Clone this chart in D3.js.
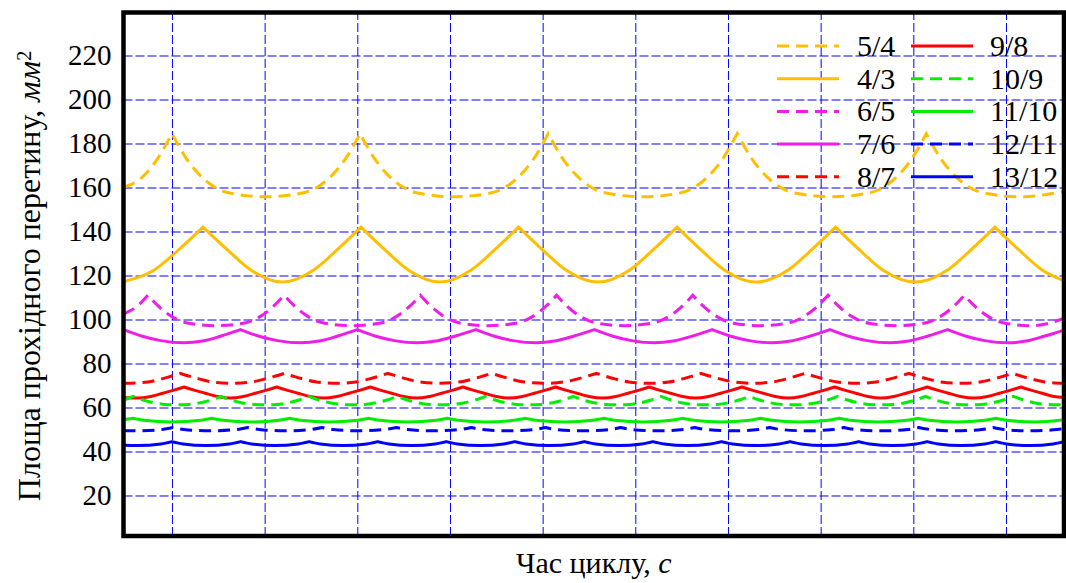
<!DOCTYPE html>
<html>
<head>
<meta charset="utf-8">
<script src="https://cdn.jsdelivr.net/npm/d3@7"></script>
<style>
  body { margin: 0; background: #fff; }
  svg text, svg tspan { font-family: "Liberation Serif", "DejaVu Serif", serif; }
</style>
</head>
<body>
<script>
/**
 * DATA  (x in grid steps, y in mm^2)
 * */
const yTicks = [20, 40, 60, 80, 100, 120, 140, 160, 180, 200, 220];
const xGrid = [0, 1, 2, 3, 4, 5, 6, 7, 8, 9];

const s54 = [[-0.523,160.2],[-0.36,163.3],[-0.15,173.5],[0,184.5],[0.15,173.5],[0.36,163.3],[0.61,157.6],[1.015,155.8],[1.42,157.6],[1.67,163.3],[1.88,173.5],[2.03,184.5],[2.18,173.5],[2.39,163.3],[2.64,157.6],[3.045,155.8],[3.45,157.6],[3.70,163.3],[3.91,173.5],[4.06,184.5],[4.21,173.5],[4.42,163.3],[4.67,157.6],[5.08,155.8],[5.49,157.6],[5.74,163.3],[5.95,173.5],[6.10,184.5],[6.25,173.5],[6.46,163.3],[6.71,157.6],[7.12,155.8],[7.53,157.6],[7.78,163.3],[7.99,173.5],[8.14,184.5],[8.29,173.5],[8.50,163.3],[8.75,157.6],[9.16,155.8],[9.626,158.2]];

const s43 = [[-0.523,117.2],[-0.19,122.5],[0.08,132],[0.335,142],[0.59,132],[0.85,122.5],[1.19,117],[1.53,122.5],[1.79,132],[2.04,142],[2.29,132],[2.55,122.5],[2.89,117],[3.23,122.5],[3.49,132],[3.74,142],[3.99,132],[4.25,122.5],[4.6,117],[4.94,122.5],[5.2,132],[5.45,142],[5.7,132],[5.96,122.5],[6.3,117],[6.65,122.5],[6.91,132],[7.16,142],[7.41,132],[7.67,122.5],[8.02,117],[8.37,122.5],[8.63,132],[8.88,142],[9.13,132],[9.39,122.5],[9.626,117.6]];

const s65 = [[-0.523,102.5],[-0.37,106.2],[-0.26,111],[-0.15,106.2],[0,101.3],[0.18,98.3],[0.475,97.2],[0.77,98.3],[0.95,101.3],[1.10,106.2],[1.21,111],[1.32,106.2],[1.47,101.3],[1.65,98.3],[1.945,97.2],[2.24,98.3],[2.42,101.3],[2.57,106.2],[2.68,111],[2.79,106.2],[2.94,101.3],[3.12,98.3],[3.415,97.2],[3.71,98.3],[3.89,101.3],[4.04,106.2],[4.15,111],[4.26,106.2],[4.41,101.3],[4.59,98.3],[4.885,97.2],[5.18,98.3],[5.36,101.3],[5.51,106.2],[5.62,111],[5.73,106.2],[5.88,101.3],[6.06,98.3],[6.35,97.2],[6.64,98.3],[6.82,101.3],[6.97,106.2],[7.08,111],[7.19,106.2],[7.34,101.3],[7.52,98.3],[7.815,97.2],[8.11,98.3],[8.29,101.3],[8.44,106.2],[8.55,111],[8.66,106.2],[8.81,101.3],[8.99,98.3],[9.285,97.2],[9.626,100.5]];

const s76 = [[-0.523,95.4],[-0.32,92.4],[-0.12,90.4],[0.13,89.4],[0.33,90.2],[0.53,92.5],[0.74,95.4],[0.94,92.4],[1.14,90.4],[1.39,89.4],[1.59,90.2],[1.79,92.5],[2.0,95.4],[2.2,92.4],[2.4,90.4],[2.65,89.4],[2.85,90.2],[3.06,92.5],[3.28,95.4],[3.48,92.4],[3.68,90.4],[3.93,89.4],[4.13,90.2],[4.34,92.5],[4.56,95.4],[4.76,92.4],[4.96,90.4],[5.21,89.4],[5.41,90.2],[5.62,92.5],[5.83,95.4],[6.03,92.4],[6.23,90.4],[6.48,89.4],[6.68,90.2],[6.89,92.5],[7.1,95.4],[7.3,92.4],[7.5,90.4],[7.75,89.4],[7.95,90.2],[8.16,92.5],[8.37,95.4],[8.57,92.4],[8.77,90.4],[9.02,89.4],[9.22,90.2],[9.42,92.5],[9.626,95.2]];

const s87 = [[-0.523,71],[-0.26,71.6],[-0.11,73.0],[-0.01,74.2],[0.09,75.5],[0.19,74.2],[0.29,73.0],[0.44,71.6],[0.65,71],[0.86,71.6],[1.01,73.0],[1.11,74.2],[1.21,75.5],[1.31,74.2],[1.41,73.0],[1.56,71.6],[1.77,71],[1.98,71.6],[2.13,73.0],[2.23,74.2],[2.33,75.5],[2.43,74.2],[2.53,73.0],[2.68,71.6],[2.89,71],[3.1,71.6],[3.25,73.0],[3.35,74.2],[3.45,75.5],[3.55,74.2],[3.65,73.0],[3.8,71.6],[4.02,71],[4.23,71.6],[4.38,73.0],[4.48,74.2],[4.58,75.5],[4.68,74.2],[4.78,73.0],[4.93,71.6],[5.15,71],[5.36,71.6],[5.51,73.0],[5.61,74.2],[5.71,75.5],[5.81,74.2],[5.91,73.0],[6.06,71.6],[6.27,71],[6.48,71.6],[6.63,73.0],[6.73,74.2],[6.83,75.5],[6.93,74.2],[7.03,73.0],[7.18,71.6],[7.39,71],[7.6,71.6],[7.75,73.0],[7.85,74.2],[7.95,75.5],[8.05,74.2],[8.15,73.0],[8.3,71.6],[8.51,71],[8.72,71.6],[8.87,73.0],[8.97,74.2],[9.07,75.5],[9.17,74.2],[9.27,73.0],[9.42,71.6],[9.626,71]];

const s98 = [[-0.523,64.4],[-0.37,64.3],[-0.23,65.0],[-0.09,66.6],[0.03,68.0],[0.13,69.3],[0.23,68.0],[0.35,66.6],[0.49,65.0],[0.63,64.3],[0.77,65.0],[0.91,66.6],[1.03,68.0],[1.13,69.3],[1.23,68.0],[1.35,66.6],[1.49,65.0],[1.635,64.3],[1.78,65.0],[1.92,66.6],[2.04,68.0],[2.14,69.3],[2.24,68.0],[2.36,66.6],[2.5,65.0],[2.64,64.3],[2.78,65.0],[2.92,66.6],[3.04,68.0],[3.14,69.3],[3.24,68.0],[3.36,66.6],[3.5,65.0],[3.64,64.3],[3.78,65.0],[3.92,66.6],[4.04,68.0],[4.14,69.3],[4.24,68.0],[4.36,66.6],[4.5,65.0],[4.645,64.3],[4.79,65.0],[4.93,66.6],[5.05,68.0],[5.15,69.3],[5.25,68.0],[5.37,66.6],[5.51,65.0],[5.65,64.3],[5.79,65.0],[5.93,66.6],[6.05,68.0],[6.15,69.3],[6.25,68.0],[6.37,66.6],[6.51,65.0],[6.65,64.3],[6.79,65.0],[6.93,66.6],[7.05,68.0],[7.15,69.3],[7.25,68.0],[7.37,66.6],[7.51,65.0],[7.65,64.3],[7.79,65.0],[7.93,66.6],[8.05,68.0],[8.15,69.3],[8.25,68.0],[8.37,66.6],[8.51,65.0],[8.655,64.3],[8.8,65.0],[8.94,66.6],[9.06,68.0],[9.16,69.3],[9.26,68.0],[9.38,66.6],[9.52,65.0],[9.626,64.5]];

const s109 = [[-0.523,63.3],[-0.42,65.1],[-0.32,63.5],[-0.2,62.2],[-0.07,61.4],[0.055,61.2],[0.18,61.4],[0.31,62.2],[0.43,63.5],[0.53,65.1],[0.63,63.5],[0.75,62.2],[0.88,61.4],[1.005,61.2],[1.13,61.4],[1.26,62.2],[1.38,63.5],[1.48,65.1],[1.58,63.5],[1.7,62.2],[1.83,61.4],[1.955,61.2],[2.08,61.4],[2.21,62.2],[2.33,63.5],[2.43,65.1],[2.53,63.5],[2.65,62.2],[2.78,61.4],[2.905,61.2],[3.03,61.4],[3.16,62.2],[3.28,63.5],[3.38,65.1],[3.48,63.5],[3.6,62.2],[3.73,61.4],[3.855,61.2],[3.98,61.4],[4.11,62.2],[4.23,63.5],[4.33,65.1],[4.43,63.5],[4.55,62.2],[4.68,61.4],[4.805,61.2],[4.93,61.4],[5.06,62.2],[5.18,63.5],[5.28,65.1],[5.38,63.5],[5.5,62.2],[5.63,61.4],[5.755,61.2],[5.88,61.4],[6.01,62.2],[6.13,63.5],[6.23,65.1],[6.33,63.5],[6.45,62.2],[6.58,61.4],[6.705,61.2],[6.83,61.4],[6.96,62.2],[7.08,63.5],[7.18,65.1],[7.28,63.5],[7.4,62.2],[7.53,61.4],[7.655,61.2],[7.78,61.4],[7.91,62.2],[8.03,63.5],[8.13,65.1],[8.23,63.5],[8.35,62.2],[8.48,61.4],[8.605,61.2],[8.73,61.4],[8.86,62.2],[8.98,63.5],[9.08,65.1],[9.18,63.5],[9.3,62.2],[9.43,61.4],[9.555,61.2],[9.626,61.25]];

const s1110 = [[-0.523,54.4],[-0.42,55.1],[-0.3,54.2],[0.0,53.4],[0.31,54.2],[0.427,55.1],[0.55,54.2],[0.85,53.4],[1.15,54.2],[1.27,55.1],[1.39,54.2],[1.695,53.4],[2.0,54.2],[2.12,55.1],[2.24,54.2],[2.545,53.4],[2.85,54.2],[2.97,55.1],[3.09,54.2],[3.39,53.4],[3.69,54.2],[3.81,55.1],[3.93,54.2],[4.235,53.4],[4.54,54.2],[4.66,55.1],[4.78,54.2],[5.085,53.4],[5.39,54.2],[5.51,55.1],[5.63,54.2],[5.93,53.4],[6.23,54.2],[6.35,55.1],[6.47,54.2],[6.775,53.4],[7.08,54.2],[7.2,55.1],[7.32,54.2],[7.625,53.4],[7.93,54.2],[8.05,55.1],[8.17,54.2],[8.47,53.4],[8.77,54.2],[8.89,55.1],[9.01,54.2],[9.315,53.4],[9.626,54.4]];

const s1211 = [[-0.523,49.6],[-0.39,49.4],[-0.11,50.0],[0.01,50.9],[0.13,50.0],[0.41,49.4],[0.7,50.0],[0.815,50.9],[0.94,50.0],[1.22,49.4],[1.5,50.0],[1.62,50.9],[1.74,50.0],[2.02,49.4],[2.3,50.0],[2.42,50.9],[2.54,50.0],[2.825,49.4],[3.11,50.0],[3.23,50.9],[3.35,50.0],[3.63,49.4],[3.91,50.0],[4.03,50.9],[4.15,50.0],[4.435,49.4],[4.72,50.0],[4.84,50.9],[4.96,50.0],[5.24,49.4],[5.52,50.0],[5.64,50.9],[5.76,50.0],[6.045,49.4],[6.33,50.0],[6.45,50.9],[6.57,50.0],[6.85,49.4],[7.13,50.0],[7.25,50.9],[7.37,50.0],[7.655,49.4],[7.94,50.0],[8.06,50.9],[8.18,50.0],[8.46,49.4],[8.74,50.0],[8.86,50.9],[8.98,50.0],[9.265,49.4],[9.55,50.0],[9.626,50.5]];

const s1312 = [[-0.523,42.8],[-0.37,42.7],[-0.12,43.4],[0,44.5],[0.12,43.4],[0.37,42.7],[0.62,43.4],[0.741,44.5],[0.86,43.4],[1.11,42.7],[1.36,43.4],[1.48,44.5],[1.6,43.4],[1.85,42.7],[2.1,43.4],[2.22,44.5],[2.34,43.4],[2.59,42.7],[2.84,43.4],[2.96,44.5],[3.08,43.4],[3.33,42.7],[3.58,43.4],[3.7,44.5],[3.82,43.4],[4.075,42.7],[4.33,43.4],[4.45,44.5],[4.57,43.4],[4.82,42.7],[5.07,43.4],[5.19,44.5],[5.31,43.4],[5.56,42.7],[5.81,43.4],[5.93,44.5],[6.05,43.4],[6.3,42.7],[6.55,43.4],[6.67,44.5],[6.79,43.4],[7.04,42.7],[7.29,43.4],[7.41,44.5],[7.53,43.4],[7.78,42.7],[8.03,43.4],[8.15,44.5],[8.27,43.4],[8.52,42.7],[8.77,43.4],[8.89,44.5],[9.01,43.4],[9.26,42.7],[9.51,43.4],[9.626,44.4]];

const seriesNames = ["5/4", "4/3", "6/5", "7/6", "8/7", "9/8", "10/9", "11/10", "12/11", "13/12"];
const seriesData = [s54, s43, s65, s76, s87, s98, s109, s1110, s1211, s1312];

// styles kept apart from the values
const orange = "#ffbf00", magenta = "#ee1ee8", red = "#ff0000", green = "#00ee00", blue = "#0000ff";
const seriesColor = [orange, orange, magenta, magenta, red, red, green, green, blue, blue];
const seriesDashed = [true, false, true, false, true, false, true, false, true, false];

/**
 * LAYOUT
 * */
const width = 1066, height = 583;
const plot = { left: 123.5, right: 1064, top: 12.5, bottom: 536 };

const x = d3.scaleLinear().domain([-0.523, 9.626]).range([plot.left, plot.right]);
// 2.2 px per mm^2 keeps the grid lines on pixel centres
const y = d3.scaleLinear().domain([1.59, 239.55]).range([plot.bottom, plot.top]);

const svg = d3.select("body").append("svg")
  .attr("width", width)
  .attr("height", height);

svg.append("clipPath").attr("id", "clip")
  .append("rect")
  .attr("x", plot.left).attr("y", plot.top)
  .attr("width", plot.right - plot.left).attr("height", plot.bottom - plot.top);

// grid (horizontal one also carries the tick labels)
const yAxis = svg.append("g")
  .attr("transform", `translate(${plot.left},0)`)
  .call(d3.axisLeft(y).tickValues(yTicks).tickSize(-(plot.right - plot.left)).tickPadding(12));

const xAxis = svg.append("g")
  .attr("transform", `translate(0,${plot.bottom})`)
  .call(d3.axisBottom(x).tickValues(xGrid).tickSize(-(plot.bottom - plot.top)).tickFormat(""));

[yAxis, xAxis].forEach(g => {
  g.attr("font-family", null).attr("font-size", null);
  g.select(".domain").remove();
  g.selectAll(".tick line")
    .attr("stroke", "#0000ff")
    .attr("stroke-width", 1)
    .attr("stroke-dasharray", "9,3");
});
yAxis.selectAll(".tick text")
  .style("font-size", "29px")
  .attr("fill", "#000");

/**
 * CURVES
 * cusps sit on the peaks, so each piece between two peaks gets its own
 * monotone curve and the pieces are glued back into one path
 * */
const line = d3.line()
  .x(d => x(d[0]))
  .y(d => y(d[1]))
  .curve(d3.curveMonotoneX);

function cuspPath(pts) {
  const pieces = [];
  let cur = [pts[0]];
  for (let i = 1; i < pts.length; i++) {
    cur.push(pts[i]);
    if (i < pts.length - 1 && pts[i][1] > pts[i - 1][1] && pts[i][1] >= pts[i + 1][1]) {
      pieces.push(cur);
      cur = [pts[i]];
    }
  }
  pieces.push(cur);
  return pieces.map((p, k) => {
    const d = line(p);
    return k ? d.replace(/^M/, "L") : d;
  }).join("");
}

svg.append("g")
  .attr("clip-path", "url(#clip)")
  .selectAll("path")
  .data(seriesData)
  .join("path")
  .attr("d", d => cuspPath(d))
  .attr("fill", "none")
  .attr("stroke", (d, i) => seriesColor[i])
  .attr("stroke-width", 3)
  .attr("stroke-dasharray", (d, i) => seriesDashed[i] ? "12,7" : null);

// frame
svg.append("rect")
  .attr("x", plot.left).attr("y", plot.top)
  .attr("width", plot.right - plot.left).attr("height", plot.bottom - plot.top)
  .attr("fill", "none")
  .attr("stroke", "#000")
  .attr("stroke-width", 4.5);

/**
 * LEGEND
 * */
const legend = svg.append("g")
  .selectAll("g")
  .data(seriesNames)
  .join("g")
  .attr("transform", (d, i) => `translate(${i < 5 ? 777 : 911},${46 + (i % 5) * 32.7})`);

legend.append("line")
  .attr("x1", 0).attr("x2", 62)
  .attr("stroke", (d, i) => seriesColor[i])
  .attr("stroke-width", 3)
  .attr("stroke-dasharray", (d, i) => seriesDashed[i] ? "12,7" : null);

legend.append("text")
  .attr("x", (d, i) => i < 5 ? 80 : 79)
  .attr("dy", "0.33em")
  .style("font-size", "30px")
  .text(d => d);

/**
 * AXIS TITLES
 * */
const xTitle = svg.append("text")
  .attr("x", (plot.left + plot.right) / 2)
  .attr("y", 573)
  .attr("text-anchor", "middle")
  .style("font-size", "30px");
xTitle.append("tspan").text("Час циклу, ");
xTitle.append("tspan").style("font-style", "italic").text("с");

const yTitle = svg.append("text")
  .attr("transform", "translate(40,276) rotate(-90)")
  .attr("text-anchor", "middle")
  .style("font-size", "32px");
yTitle.append("tspan").text("Площа прохідного перетину, ");
yTitle.append("tspan").style("font-style", "italic").text("мм");
yTitle.append("tspan").attr("dy", "-0.45em").style("font-size", "20px").text("2");
</script>
</body>
</html>
